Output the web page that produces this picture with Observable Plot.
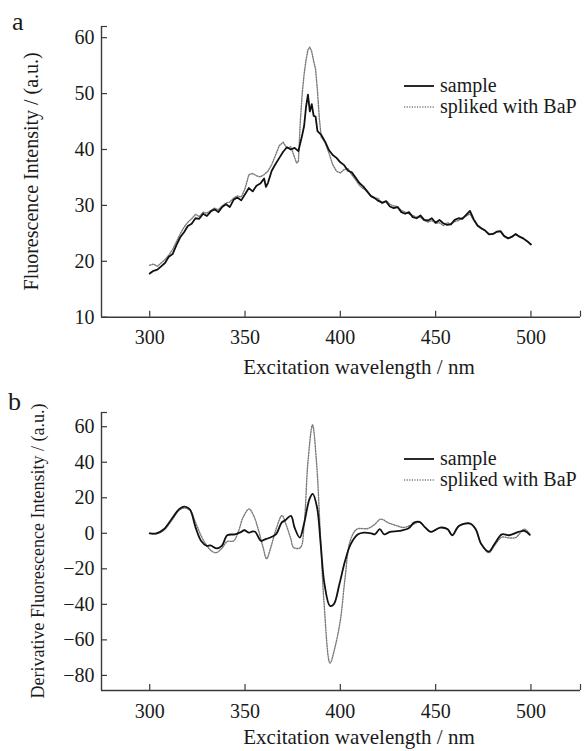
<!DOCTYPE html>
<html><head><meta charset="utf-8">
<script src="https://cdn.jsdelivr.net/npm/d3@7"></script>
<script src="https://cdn.jsdelivr.net/npm/@observablehq/plot@0.6"></script>
<style>
html,body{margin:0;padding:0;background:#fff;}
#chart{position:relative;width:584px;height:751px;overflow:hidden;background:#fff;}
#chart svg{position:absolute;left:0;}
#chart svg, #chart svg text{font-family:"Liberation Serif","DejaVu Serif",serif !important;}
</style></head><body><div id="chart"></div>
<script>
// ---- data ----
const wavelengthTicks = [300, 350, 400, 450, 500];
const intensityTicks = [10, 20, 30, 40, 50, 60];
const derivativeTicks = [-80, -60, -40, -20, 0, 20, 40, 60];
const seriesNames = ["sample", "spliked with BaP"];
const xAxisTitle = "Excitation wavelength / nm";
const yTitleA = "Fluorescence Intensity / (a.u.)";
const yTitleB = "Derivative Fluorescence Intensity / (a.u.)";

// panel a: [wavelength nm, intensity]
const sampleA = [[300,17.8],[302,18.3],[304,18.5],[306,19.1],[308,19.7],[310,20.8],[312,21.3],[314,22.9],[316,24.3],[318,25.2],[320,26.3],[322,26.7],[324,27.7],[326,27.6],[328,28.5],[330,28.1],[332,28.9],[334,29.3],[336,28.8],[338,29.7],[340,30.2],[342,29.7],[344,31.0],[346,31.4],[348,30.9],[350,32.0],[352,33.1],[354,32.5],[356,33.5],[358,33.9],[360,34.8],[361,33.3],[362,34.0],[364,36.2],[366,37.4],[368,38.5],[370,39.6],[372,40.4],[374,40.0],[376,40.3],[378,39.7],[380,42.6],[381,44.2],[382,47.6],[383,49.8],[384,46.8],[385,48.1],[386,46.0],[387,45.9],[388,43.3],[390,42.6],[392,41.4],[394,39.9],[396,39.0],[398,38.5],[400,37.7],[402,37.2],[404,36.2],[406,35.9],[408,35.0],[410,34.0],[412,33.4],[414,32.5],[416,31.7],[418,31.3],[420,30.8],[422,30.5],[424,30.7],[426,29.8],[428,29.5],[430,29.7],[432,28.8],[434,28.5],[436,28.8],[438,27.9],[440,27.7],[442,28.2],[444,27.4],[446,27.3],[448,27.7],[450,26.9],[452,27.4],[454,26.8],[456,26.5],[458,26.6],[460,27.4],[462,27.7],[464,27.6],[466,28.3],[468,29.0],[470,27.5],[472,26.4],[474,25.9],[476,25.5],[478,24.8],[480,24.9],[482,25.3],[484,25.4],[486,24.5],[488,24.1],[490,24.4],[492,24.9],[494,24.4],[496,24.1],[498,23.6],[500,23.0]];
const spikedA = [[300,19.3],[302,19.5],[304,19.1],[306,19.7],[308,20.3],[310,21.1],[312,22.1],[314,23.5],[316,24.9],[318,26.1],[320,27.0],[322,27.6],[324,28.4],[326,28.0],[328,28.8],[330,28.6],[332,29.1],[334,29.5],[336,29.2],[338,29.9],[340,30.4],[342,30.6],[344,31.3],[346,31.7],[348,31.5],[350,33.0],[352,35.5],[354,35.7],[356,35.3],[358,35.1],[360,35.5],[362,36.1],[364,37.3],[366,39.0],[368,40.7],[370,41.3],[372,40.2],[374,40.5],[376,38.6],[377,37.6],[378,37.8],[379,45.0],[380,50.0],[381,53.5],[382,56.0],[383,57.8],[384,58.3],[385,57.5],[386,55.8],[387,54.4],[388,50.5],[389,45.5],[390,42.2],[392,41.3],[394,39.4],[396,37.3],[398,36.1],[400,35.8],[402,36.4],[404,36.6],[406,35.5],[408,34.6],[410,33.6],[412,33.0],[414,32.7],[416,31.6],[418,31.4],[420,31.2],[422,30.3],[424,30.9],[426,30.2],[428,29.9],[430,29.8],[432,29.1],[434,28.8],[436,28.5],[438,28.2],[440,27.9],[442,27.9],[444,27.3],[446,27.0],[448,27.3],[450,26.8],[452,26.9],[454,26.4],[456,26.9],[458,26.7],[460,27.1],[462,27.3],[464,27.8],[466,28.1],[468,28.5],[470,27.3],[472,26.3],[474,25.8],[476,25.5],[478,24.9],[480,24.8],[482,25.2],[484,25.3],[486,24.5],[488,24.1],[490,24.3],[492,24.8],[494,24.4],[496,24.0],[498,23.6],[500,23.0]];

// panel b: [wavelength nm, derivative intensity]
const sampleB = [[300,0],[303.5,-0.1],[307.4,2.3],[311.4,7.9],[315.3,13.5],[317.5,14.9],[319.2,14.8],[321.2,13.3],[324.1,3.2],[327,-4.3],[330,-7.1],[331.9,-6.8],[334.9,-8.5],[337.8,-7.1],[340.7,-1.1],[344.7,-0.6],[347.5,0.5],[349.6,1.7],[352.1,0.4],[354,1.1],[355.4,0.8],[358.4,-4.3],[360.5,-3.4],[362.3,-2.8],[366.2,-0.6],[369.2,6.0],[371.1,7.3],[374.1,9.8],[376,3.2],[378.7,-2.4],[380.9,5.1],[383.8,19.2],[385.5,22.2],[387.8,14.5],[389.7,-6.2],[391.7,-28.7],[394.6,-40.9],[396.6,-39.9],[399.5,-28.7],[402.5,-15.5],[405.4,-6.2],[409.3,-0.6],[412.3,0.4],[416.2,0],[418.1,-0.6],[420.7,2.3],[423,-0.6],[426,0.8],[430.9,1.3],[435.8,2.8],[438.7,6.0],[441.6,6.4],[444.6,3.2],[447.5,0.8],[452.4,3.2],[456.3,2.3],[458.7,-1.1],[462.2,4.1],[468.1,5.5],[471,2.3],[474,-6.2],[477.9,-10.3],[480.8,-6.2],[484.7,-0.6],[488.6,-1.1],[493.5,0.8],[496.5,1.3],[499.4,-0.9]];
const spikedB = [[300,0],[303.5,-0.3],[307.4,1.8],[311.4,7.0],[315.3,12.8],[318,14.2],[321.2,12.8],[324.1,5.9],[327,-1.5],[330,-7.0],[332.5,-10.0],[334.9,-10.9],[337.8,-8.5],[340.7,-4.6],[344,-4.3],[346.5,1],[349,9],[352.1,13.7],[354.5,10],[357,2],[359.5,-8],[361.3,-14.3],[363.5,-8],[366.2,2],[369.4,10.0],[371.5,5],[374,-3],[375.5,-8.0],[379,-8.1],[381,5],[383,40],[385.4,61.0],[387.5,40],[389.5,0],[391.5,-40],[394.6,-73.1],[397,-65],[400,-49],[402.5,-25],[405.2,-4.2],[408.7,2.3],[414.5,2.7],[418,5],[421.2,8.0],[425,6],[429,4.5],[433.2,3.3],[437,4.5],[441.6,6.2],[444.6,3.2],[447.5,0.8],[452.4,3.2],[456.3,2.3],[458.7,-1.1],[462.2,4.1],[468.1,5.5],[471,2.3],[474,-6.0],[477.9,-10.9],[480.8,-7],[484.7,-2.2],[488.6,-2.6],[492,-2.4],[496.5,2.3],[499.4,-0.5]];

// ---- drawing ----
const FONT = '"Liberation Serif","DejaVu Serif",serif';
const W = 584;
const xDomain = [274.7, 526];
const axisColor = "#3a3a3a";
const textColor = "#1a1a1a";
const dotColor = "#7a7a7a";
const dotDash = "1.2,1.4";

function panel(o) {
  const marginLeft = 101, marginRight = 4;
  const innerW = W - marginLeft - marginRight;
  const innerH = o.height - o.marginTop - o.marginBottom;
  const svg = Plot.plot({
    width: W, height: o.height,
    marginLeft, marginRight, marginTop: o.marginTop, marginBottom: o.marginBottom,
    style: `font-family:${FONT};font-size:20px;color:${textColor};background:white;overflow:visible;`,
    x: {domain: xDomain, label: null},
    y: {domain: o.yDomain, label: null},
    marks: [
      Plot.ruleY([o.yDomain[0]], {stroke: axisColor, strokeWidth: 1.4}),
      Plot.ruleX([xDomain[0]], {stroke: axisColor, strokeWidth: 1.4}),
      Plot.tickX([...wavelengthTicks, xDomain[1]], {x: d => d, insetTop: innerH - 6, stroke: axisColor, strokeWidth: 1.2}),
      Plot.tickY([...o.yTicks, o.yDomain[1]], {y: d => d, insetRight: innerW - 6, stroke: axisColor, strokeWidth: 1.2}),
      Plot.axisX({ticks: wavelengthTicks, tickSize: 0, tickPadding: 13, fontSize: 20, label: null}),
      Plot.axisY({ticks: o.yTicks, tickSize: 0, tickPadding: 7, fontSize: 20, label: null}),
      Plot.line(o.spiked, {x: d => d[0], y: d => d[1], stroke: dotColor, strokeWidth: 1.4, strokeDasharray: dotDash, curve: o.curve}),
      Plot.line(o.sample, {x: d => d[0], y: d => d[1], stroke: "#111", strokeWidth: o.sampleWidth, curve: o.curve})
    ]
  });
  svg.style.top = o.top + "px";
  const s = d3.select(svg);
  const txt = (sel, size) => sel.attr("font-size", size).style("font-family", FONT).style("font-size", size + "px").attr("fill", textColor);
  txt(s.append("text").attr("x", o.letterX).attr("y", o.letterY).attr("text-anchor", "start"), 26).text(o.letter);
  txt(s.append("text").attr("transform", `translate(${o.yLabelX},${o.marginTop + innerH / 2}) rotate(-90)`)
    .attr("text-anchor", "middle").attr("dy", "0.32em"), o.yLabelSize).text(o.yLabel);
  txt(s.append("text").attr("x", 359).attr("y", o.height - o.marginBottom + o.titleOffset).attr("text-anchor", "middle"), 21).text(xAxisTitle);
  // legend
  const styles = [
    {stroke: "#111", width: o.sampleWidth, dash: null},
    {stroke: dotColor, width: 1.4, dash: dotDash}
  ];
  seriesNames.forEach((name, i) => {
    const y = o.legendY + i * 21;
    s.append("line").attr("x1", 404).attr("x2", 434).attr("y1", y).attr("y2", y)
      .attr("stroke", styles[i].stroke).attr("stroke-width", styles[i].width)
      .attr("stroke-dasharray", styles[i].dash);
    txt(s.append("text").attr("x", 440).attr("y", y).attr("dy", "0.32em").attr("text-anchor", "start"), 20).text(name);
  });
  return svg;
}

const chart = document.getElementById("chart");
chart.appendChild(panel({
  top: 0, height: 380, marginTop: 26, marginBottom: 63.3,
  yDomain: [10, 62], yTicks: intensityTicks,
  sample: sampleA, spiked: spikedA, curve: "linear", sampleWidth: 1.8,
  letter: "a", letterX: 12, letterY: 30,
  yLabel: yTitleA, yLabelX: 32, yLabelSize: 20,
  legendY: 86, titleOffset: 57
}));
chart.appendChild(panel({
  top: 380, height: 371, marginTop: 32, marginBottom: 61,
  yDomain: [-88.5, 68], yTicks: derivativeTicks,
  sample: sampleB, spiked: spikedB, curve: "catmull-rom", sampleWidth: 1.8,
  letter: "b", letterX: 8, letterY: 30,
  yLabel: yTitleB, yLabelX: 38, yLabelSize: 18,
  legendY: 79, titleOffset: 54
}));
</script></body></html>
